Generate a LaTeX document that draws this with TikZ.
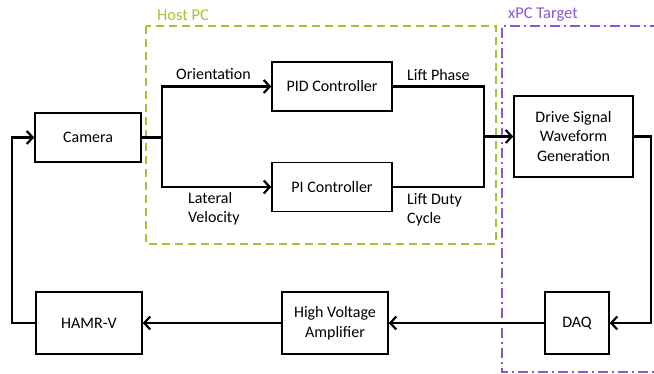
\documentclass[tikz,border=0pt]{standalone}
\usepackage{fontspec}
\setmainfont{Carlito}
\usetikzlibrary{arrows.meta}
\definecolor{hostgreen}{RGB}{160,198,50}
\definecolor{xpcpurple}{RGB}{140,85,214}
\tikzset{
  blk/.style={draw, line width=1.5pt, align=center, inner sep=2pt, font=\fontsize{16}{19.5}\selectfont},
  lbl/.style={align=left, inner sep=0pt, font=\fontsize{16}{19.5}\selectfont},
  conn/.style={line width=2.5pt, -{Straight Barb[length=6pt,width=13pt,line width=2.2pt]}},
  wire/.style={line width=2.5pt},
}
\begin{document}
\begin{tikzpicture}[x=1pt,y=-1pt]
\useasboundingbox (0,0) rectangle (654,374);
% regions
\draw[hostgreen, line width=1.8pt, dash pattern=on 8pt off 5pt] (146,26) rectangle (496,244);
\node[anchor=west, text=hostgreen, inner sep=0pt, font=\fontsize{16.5}{18}\selectfont] (hostlbl) at (157,15) {Host PC};
\begin{scope}
\clip (0,0) rectangle (654,374);
\draw[xpcpurple, line width=1.8pt, dash pattern=on 10pt off 4pt on 2pt off 4pt] (660,26) -- (502,26) -- (502,372) -- (660,372);
\end{scope}
\node[anchor=west, text=xpcpurple, inner sep=0pt, font=\fontsize{16.5}{18}\selectfont] (xpclbl) at (508,15) {xPC Target};
% blocks
\node[blk, minimum width=106pt, minimum height=49pt] (cam) at (88,137.5) {Camera};
\node[blk, minimum width=120pt, minimum height=49pt] (pid) at (332,86.5) {PID Controller};
\node[blk, minimum width=120pt, minimum height=49pt] (pi) at (332,187) {PI Controller};
\node[blk, minimum width=119pt, minimum height=81pt] (drive) at (573.5,136.5) {Drive Signal\\Waveform\\Generation};
\node[blk, minimum width=64pt, minimum height=62pt] (daq) at (577,323) {DAQ};
\node[blk, minimum width=106pt, minimum height=62pt] (hva) at (335,323) {High Voltage\\Amplifier};
\node[blk, minimum width=106pt, minimum height=62pt] (hamr) at (89,323) {HAMR-V};
% junctions
\coordinate (jl) at (162,137.5);
\coordinate (jr) at (484,136.5);
\coordinate (rr) at (651,136.5);
\coordinate (ll) at (12,323);
% connectors
\draw[wire] (cam.east) -- (jl);
\draw[conn] (jl) |- (pid.west);
\draw[conn] (jl) |- (pi.west);
\draw[wire] (pid.east) -| (jr);
\draw[wire] (pi.east) -| (jr);
\draw[conn] (jr) -- (drive.west);
\draw[conn] (drive.east) -- (rr) |- (daq.east);
\draw[conn] (daq.west) -- (hva.east);
\draw[conn] (hva.west) -- (hamr.east);
\draw[conn] (hamr.west) -- (ll) |- (cam.west);
% labels
\node[lbl, anchor=west] (lo) at (176,74) {Orientation};
\node[lbl, anchor=north west] (llv) at (188,192) {Lateral\\Velocity};
\node[lbl, anchor=west] (llp) at (407,75) {Lift Phase};
\node[lbl, anchor=north west] (lld) at (407,193) {Lift Duty\\Cycle};
\end{tikzpicture}
\end{document}
